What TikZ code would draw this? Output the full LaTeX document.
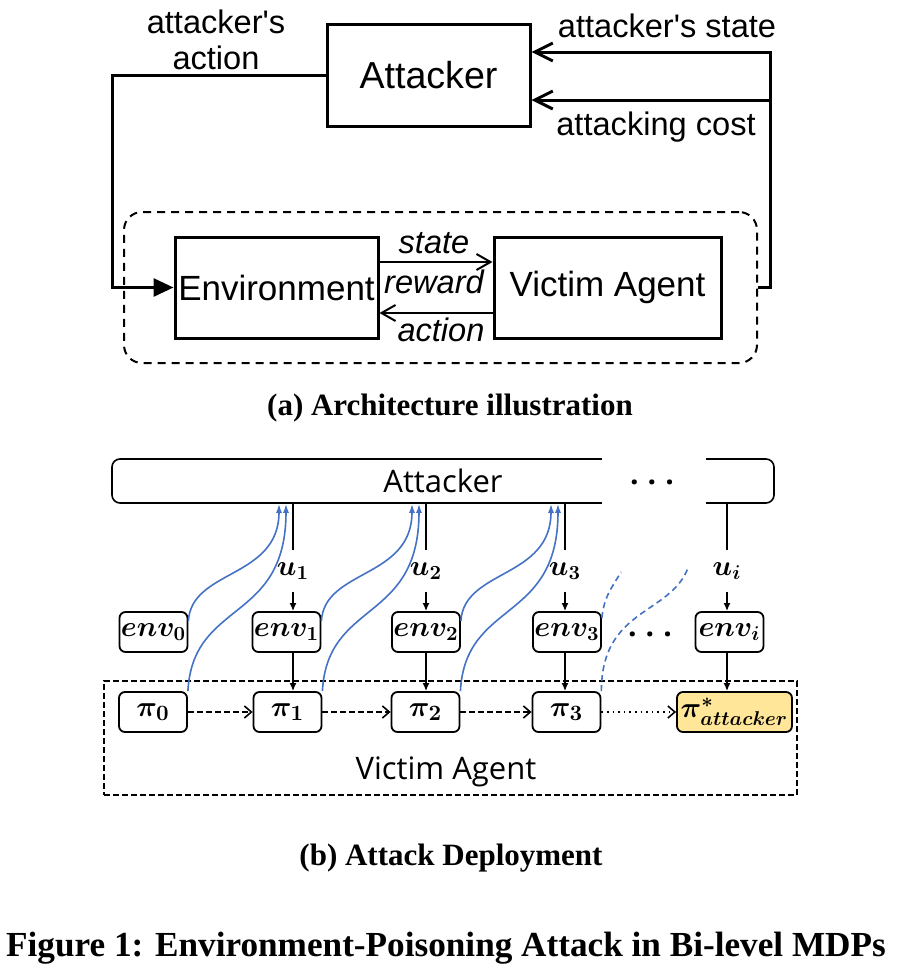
\documentclass[tikz,border=0pt]{standalone}
\usepackage{fontspec}
\usepackage{amsmath,bm}
\usetikzlibrary{positioning,arrows.meta,calc}
\newfontfamily\arialfont{Liberation Sans}
\newfontfamily\yaheifont{Open Sans}
\newfontfamily\capfont{Liberation Serif}
\definecolor{curveblue}{RGB}{68,114,196}
\definecolor{goldlight}{RGB}{255,230,153}
\newcommand{\spaceddots}{.\kern4.5pt.\kern4.5pt.}
\tikzset{
  bigbox/.style={draw,line width=1.5pt,inner sep=0pt,font=\arialfont\fontsize{17.5}{20}\selectfont},
  thickarrow/.style={line width=1.5pt,-{Straight Barb[length=9pt,width=9pt]}},
  innerarrow/.style={line width=1pt,-{Straight Barb[length=7pt,width=8pt]}},
  sublabel/.style={font=\arialfont\fontsize{16.3}{18}\selectfont},
  stagebox/.style={draw,line width=0.9pt,rounded corners=3pt,minimum width=34pt,minimum height=20pt,inner sep=0pt,font=\fontsize{14}{16}\selectfont},
  flowarrow/.style={line width=0.8pt,-{Latex[length=4pt,width=3.5pt]}},
  stepline/.style={line width=0.8pt,-{Straight Barb[length=3.5pt,width=6pt]}},
  feedback/.style={curveblue,line width=0.8pt,-{Latex[length=4.5pt,width=3pt]}},
  captext/.style={font=\capfont\bfseries\fontsize{15.5}{18}\selectfont},
}

\begin{document}
\begin{tikzpicture}[x=0.5pt,y=-0.5pt]
\useasboundingbox (0,0) rectangle (904,975);

% (a) architecture
\node[bigbox,minimum width=101.5pt,minimum height=51pt,font=\arialfont\fontsize{18.8}{22}\selectfont] (attacker) at (428.5,75) {Attacker};
\node[draw,line width=1pt,dash pattern=on 4pt off 3pt,rounded corners=9pt,minimum width=316.5pt,minimum height=75.5pt] (loop) at (440.5,287.5) {};
\node[bigbox,minimum width=101.5pt,minimum height=50.5pt] (env) at (276.5,287.5) {Environment};
\node[bigbox,minimum width=113.5pt,minimum height=50.5pt] (victim) at (607.5,287.5) {Victim Agent};

\coordinate (leftbend) at (112,75);
\coordinate (rightbend) at (770,287.5);
\coordinate (statein) at (770,52);
\coordinate (costin) at (770,100);
\draw[line width=1.5pt,-{Triangle[length=10pt,width=9pt]}] (attacker.west) -- (leftbend) |- (env.west);
\draw[thickarrow] (loop.east) -- (rightbend) -- (statein) -- (statein -| attacker.east);
\draw[thickarrow] (costin) -- (costin -| attacker.east);

\node[sublabel,align=center] (actlabel) at (216,40) {attacker\textquotesingle s\\action};
\node[sublabel] (statelabel) at (667,26) {attacker\textquotesingle s state};
\node[sublabel] (costlabel) at (656,127) {attacking cost};

\draw[innerarrow] ([yshift=12.75pt]env.east) -- ([yshift=12.75pt]victim.west);
\draw[innerarrow] ([yshift=-12.75pt]victim.west) -- ([yshift=-12.75pt]env.east);
\node[sublabel,font=\arialfont\itshape\fontsize{16.3}{18}\selectfont] (statetxt) at (434,243) {state};
\node[sublabel,font=\arialfont\itshape\fontsize{16.3}{18}\selectfont] (rewardtxt) at (434,282) {reward};
\node[sublabel,font=\arialfont\itshape\fontsize{16.3}{18}\selectfont] (actiontxt) at (441,330) {action};

\node[captext] (capa) at (450,408) {(a) Architecture illustration};

% (b) deployment
\node[draw,line width=0.8pt,rounded corners=4pt,minimum width=331pt,minimum height=22pt,font=\yaheifont\fontsize{15.5}{18}\selectfont] (attacker2) at (443,481) {Attacker};
\fill[white] (602,452) rectangle (706,510);
\node[font=\yaheifont\bfseries\fontsize{15}{18}\selectfont] (dotsA) at (652,482) {\spaceddots};

\node[draw,line width=1pt,dash pattern=on 3pt off 1.5pt,minimum width=346.5pt,minimum height=57pt] (victim2) at (450.5,738) {};
\node[font=\yaheifont\fontsize{15.5}{18}\selectfont] (victimlabel) at (446,772) {Victim Agent};

\foreach \k/\x in {0/153.5,1/286.5,2/426,3/567}
  \node[stagebox] (env\k) at (\x,632) {$\bm{env_{\k}}$};
\node[stagebox] (envi) at (729.5,632) {$\bm{env_i}$};
\foreach \k/\x in {0/153,1/287.5,2/425.5,3/566.5}
  \node[stagebox,font=\fontsize{15}{17}\selectfont] (pol\k) at (\x,712) {$\bm{\pi_{\k}}$};
\node[stagebox,fill=goldlight,minimum width=57.5pt] (poli) at (734.5,712) {$\bm{\pi^{*}_{attacker}}$};
\node[font=\yaheifont\bfseries\fontsize{15}{18}\selectfont] (dotsB) at (650,634) {\spaceddots};

\foreach \k/\x in {1/293,2/426,3/565,i/727}
  \node[minimum height=21pt,inner sep=0pt,font=\fontsize{14}{16}\selectfont] (u\k) at (\x,571) {$\bm{u_{\k}}$};

\foreach \k in {1,2,3,i} {
  \draw[line width=0.8pt] (u\k |- attacker2.south) -- (u\k.north);
  \draw[flowarrow] (u\k.south) -- (u\k.south |- env\k.north);
  \draw[flowarrow] (env\k.south -| u\k) -- (pol\k.north -| u\k);
}

\foreach \a/\b in {0/1,1/2,2/3}
  \draw[stepline,dash pattern=on 3pt off 1.5pt] (pol\a) -- (pol\b);
\draw[stepline,dotted] (pol3) -- (poli);

\foreach \k/\n in {0/1,1/2,2/3} {
  \draw[feedback] ([yshift=5.5pt]env\k.east) .. controls +(3,-52) and +(0,75) .. ($(u\n |- attacker2.south)+(-14,0)$);
  \draw[feedback] (pol\k.north east) .. controls +(5,-92) and +(0,120) .. ($(u\n |- attacker2.south)+(-7,0)$);
}
\coordinate (fadeA) at (688,568);
\coordinate (fadeB) at (621,572);
\draw[curveblue,line width=0.8pt,dash pattern=on 3pt off 2pt] (pol3.north east) .. controls +(0,-83) and +(-18,47) .. (fadeA);
\draw[curveblue,line width=0.8pt,dash pattern=on 3pt off 2pt] ([yshift=7pt]env3.east) .. controls +(2,-22) and +(-8,14) .. (fadeB);

\node[captext] (capb) at (451,858) {(b) Attack Deployment};
\node[captext,font=\capfont\bfseries\fontsize{17.6}{20}\selectfont] (figcap) at (446,948) {Figure 1: Environment-Poisoning Attack in Bi-level MDPs};
\end{tikzpicture}
\end{document}
